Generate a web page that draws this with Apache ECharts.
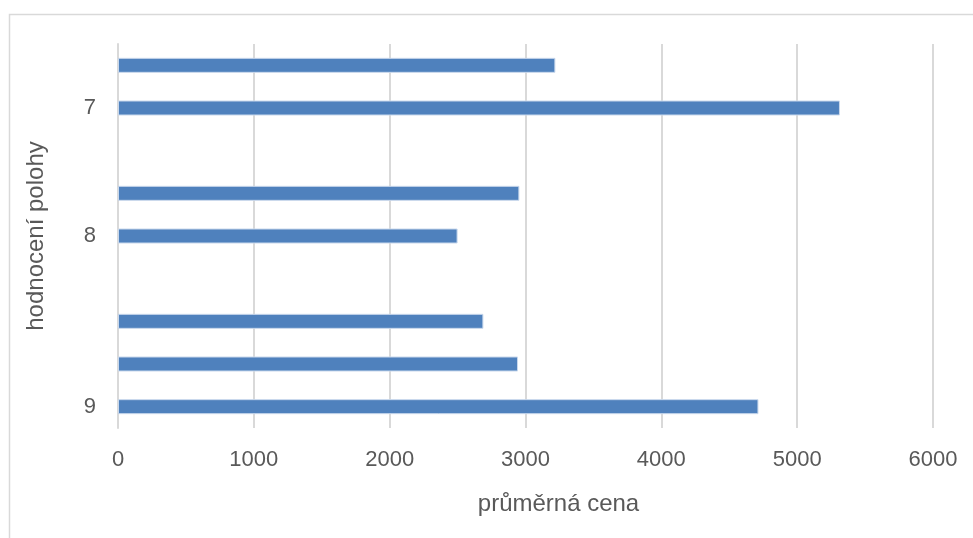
<!DOCTYPE html>
<html>
<head>
<meta charset="utf-8">
<script src="https://cdn.jsdelivr.net/npm/echarts@6/dist/echarts.min.js"></script>
<style>
  html, body { margin: 0; padding: 0; background: #ffffff; }
  #chart { width: 973px; height: 538px; }
</style>
</head>
<body>
<div id="chart"></div>
<script>
// Rows from top to bottom; empty label = unlabelled row, null value = empty row
const rowLabels = ['', '7', '', '', '8', '', '', '', '9'];
const prices = [3220, 5315, null, 2955, 2500, null, 2690, 2945, 4715];
const xTicks = [0, 1000, 2000, 3000, 4000, 5000, 6000];

const textColor = '#595959';
const gridColor = '#d9d9d9';
const fontFamily = '"Liberation Sans", "Open Sans", sans-serif';

const chart = echarts.init(document.getElementById('chart'), null, { renderer: 'canvas' });

chart.setOption({
  animation: false,
  backgroundColor: '#ffffff',
  graphic: [{
    type: 'rect',
    shape: { x: 9.5, y: 14.5, width: 1000, height: 600 },
    style: { fill: 'none', stroke: gridColor, lineWidth: 1.5 },
    silent: true
  }],
  grid: { left: 118, right: 40, top: 44, bottom: 110, containLabel: false },
  xAxis: {
    type: 'value',
    min: xTicks[0],
    max: xTicks[xTicks.length - 1],
    interval: xTicks[1] - xTicks[0],
    name: 'průměrná cena',
    nameLocation: 'middle',
    nameGap: 64,
    nameTextStyle: {
      color: textColor, fontSize: 24, fontFamily: fontFamily,
      padding: [0, 0, 0, 66]
    },
    axisLine: { show: false },
    axisTick: { show: false },
    axisLabel: {
      color: textColor, fontSize: 22, fontFamily: fontFamily, margin: 21,
      formatter: (v) => String(v)
    },
    splitLine: { show: true, lineStyle: { color: gridColor, width: 2 } }
  },
  yAxis: {
    type: 'category',
    inverse: true,
    data: rowLabels.map((_, i) => String(i)),
    name: 'hodnocení polohy',
    nameLocation: 'middle',
    nameGap: 70,
    nameRotate: 90,
    nameTextStyle: { color: textColor, fontSize: 24, fontFamily: fontFamily },
    axisLine: { show: true, lineStyle: { color: gridColor, width: 2 } },
    axisTick: { show: false },
    axisLabel: {
      color: textColor, fontSize: 22, fontFamily: fontFamily, margin: 22,
      interval: 0,
      formatter: (v) => rowLabels[Number(v)]
    },
    splitLine: { show: false }
  },
  series: [{
    type: 'bar',
    data: prices,
    barWidth: 15,
    itemStyle: { color: '#4f81bd', borderColor: '#c9d8ec', borderWidth: 1 }
  }]
});
</script>
</body>
</html>
